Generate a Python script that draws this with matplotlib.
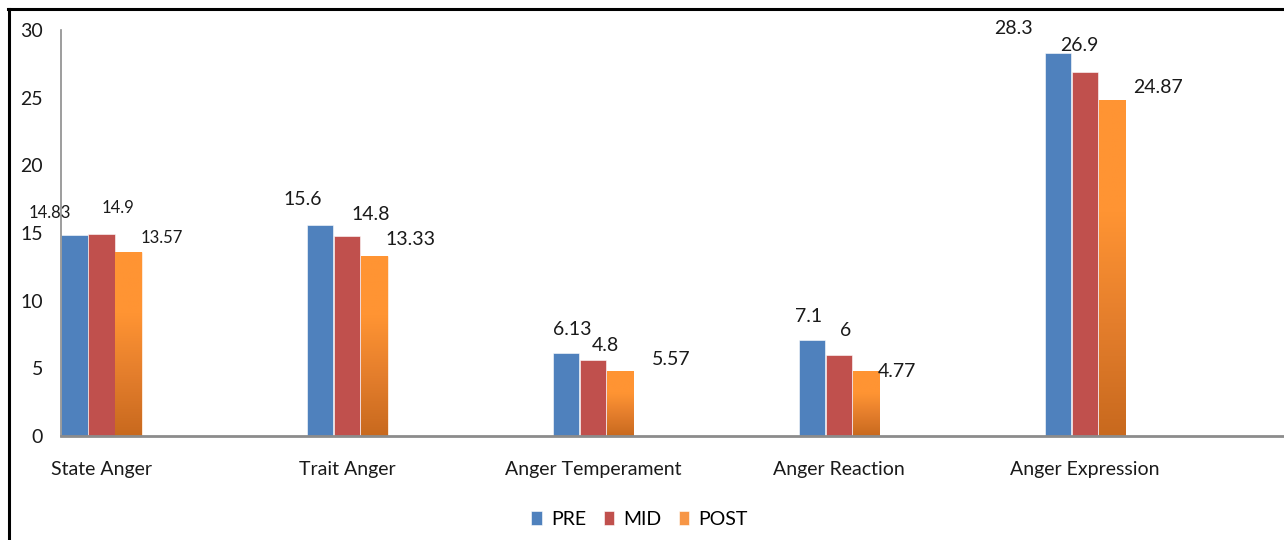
import numpy as np
import matplotlib
matplotlib.use("Agg")
from matplotlib import pyplot as plt
from matplotlib.colors import LinearSegmentedColormap

plt.rcParams['font.family'] = ['Lato', 'DejaVu Sans']

# Data
categories = ['State Anger', 'Trait Anger', 'Anger Temperament', 'Anger Reaction', 'Anger Expression']
series = ['PRE', 'MID', 'POST']
pre = [14.83, 15.6, 6.13, 7.1, 28.3]
mid = [14.9, 14.8, 5.57, 6.0, 26.9]
post = [13.57, 13.33, 4.8, 4.77, 24.87]
# data labels as printed on the chart (Temperament labels are swapped there)
pre_labels = ['14.83', '15.6', '6.13', '7.1', '28.3']
mid_labels = ['14.9', '14.8', '4.8', '6', '26.9']
post_labels = ['13.57', '13.33', '5.57', '4.77', '24.87']

colors = ['#4F81BD', '#C0504D', '#F79646']
# label offsets from bar top centre, in pixels (dx, dy)
offsets = [
    [(-25, 22), (16, 26), (33, 14)],
    [(-18, 25), (23, 21), (36, 16)],
    [(6, 23), (12, 15), (51, 11)],
    [(-3, 23), (7, 24), (31, 0)],
    [(-44, 25), (-6, 27), (46, 12)],
]

fig = plt.figure(figsize=(12.84, 5.4), dpi=100)
ax = fig.add_axes([0.0475, 0.193, 0.9525, 0.751])

x = np.arange(len(categories))
w = 0.11
values = [pre, mid, post]
labels = [pre_labels, mid_labels, post_labels]

grad = LinearSegmentedColormap.from_list('post', ['#C8691E', '#E47E2C', '#FF9433', '#FF9433'])
gimg = np.linspace(0, 1, 256).reshape(-1, 1)

for j, (vals, name) in enumerate(zip(values, series)):
    bars = ax.bar(x + (j - 1) * w, vals, width=w * 0.97, color=colors[j], label=name,
                  edgecolor='white', linewidth=0.4, zorder=2)
    if name == 'POST':
        for b in bars:
            im = ax.imshow(gimg, cmap=grad, aspect='auto', origin='lower',
                           extent=[b.get_x(), b.get_x() + b.get_width(), 0, b.get_height()],
                           zorder=2.5)
            im.set_clip_path(b)
    for i, b in enumerate(bars):
        dx, dy = offsets[i][j]
        fs = 12 if i == 0 else 14
        ax.annotate(labels[j][i], (b.get_x() + b.get_width() / 2, b.get_height()),
                    xytext=(dx, dy), textcoords='offset pixels',
                    ha='center', va='center', fontsize=fs, color='#1a1a1a')

ax.set_xlim(-1.5 * w, 4.81)
ax.set_ylim(0, 30)
ax.set_yticks(range(0, 31, 5))
ax.set_xticks(x)
ax.set_xticklabels(categories)
ax.tick_params(axis='both', length=0, labelsize=14, colors='#1a1a1a')
ax.tick_params(axis='x', pad=18)
ax.tick_params(axis='y', pad=13)

for s in ['top', 'right']:
    ax.spines[s].set_visible(False)
ax.spines['left'].set_color('#8c8c8c')
ax.spines['left'].set_linewidth(1.2)
ax.spines['bottom'].set_color('#8c8c8c')
ax.spines['bottom'].set_linewidth(2)

leg = fig.legend(loc='center', bbox_to_anchor=(0.498, 0.038), ncol=3, frameon=False,
                 fontsize=14, handlelength=0.55, handleheight=0.7, handletextpad=0.45,
                 columnspacing=0.9)

# outer frame lines (top and left)
fig.add_artist(plt.Line2D([8 / 1284, 1], [1 - 9 / 540, 1 - 9 / 540], color='black', lw=2.2))
fig.add_artist(plt.Line2D([9 / 1284, 9 / 1284], [0, 1 - 9 / 540], color='black', lw=2.2))

fig.savefig('out.png', dpi=100)
